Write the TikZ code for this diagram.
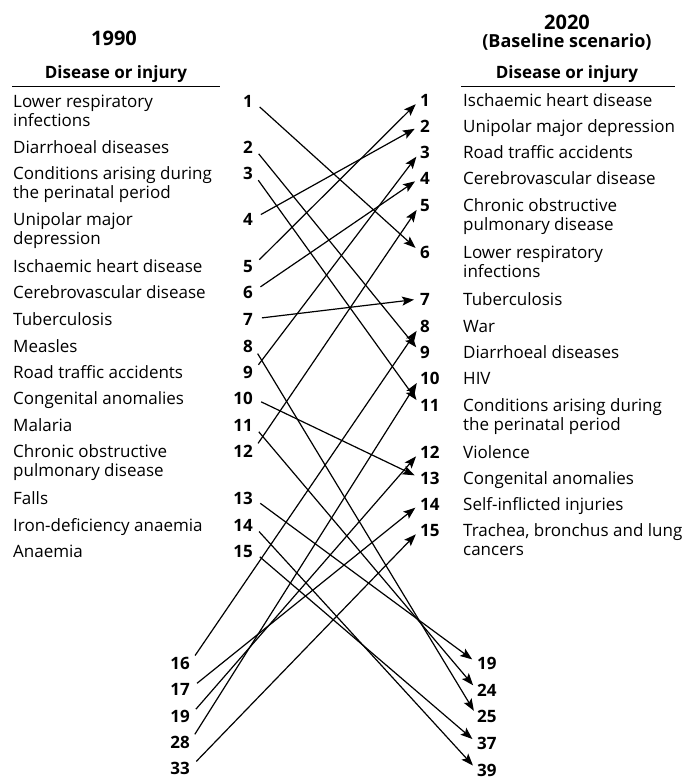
\documentclass[tikz,border=0pt]{standalone}
\usepackage{fontspec}
\setmainfont{Open Sans}
\usetikzlibrary{arrows.meta, positioning}

\begin{document}
\begin{tikzpicture}[
    x=1pt, y=-1pt,
    year/.style={font=\fontsize{20}{22}\selectfont\bfseries, inner sep=0pt},
    head/.style={font=\fontsize{17}{18}\selectfont\bfseries, inner sep=0pt},
    dname/.style={anchor=base west, font=\fontsize{17}{19}\selectfont, align=left, inner sep=0pt},
    dname2/.style={dname, yshift=-19pt},
    lnum/.style={anchor=base east, font=\fontsize{17}{19}\selectfont\bfseries, inner sep=0pt},
    rnum/.style={anchor=base west, font=\fontsize{17}{19}\selectfont\bfseries, inner sep=0pt},
    arrow/.style={-{Stealth[length=12pt, width=9pt, inset=2.5pt]}, line width=1.2pt, shorten <=9pt, shorten >=6pt}
]
\useasboundingbox (0,0) rectangle (686,782);

% Headings
\node[year] (y90) at (114,38) {1990};
\node[head] (h90) at (116,74) {Disease or injury};
\draw[line width=0.8pt] (12,86) -- (220,86);

\node[year] (y20) at (567,22) {2020};
\node[year, font=\fontsize{18}{20}\selectfont\bfseries, below=4pt of y20] (base20) {(Baseline scenario)};
\node[head] (h20) at (567,74) {Disease or injury};
\draw[line width=0.8pt] (461,86) -- (675,86);

% 1990: diseases
\node[dname2] (lri90) at (13,107) {Lower respiratory\\infections};
\node[dname] (diar90) at (13,153) {Diarrhoeal diseases};
\node[dname2] (peri90) at (13,179) {Conditions arising during\\the perinatal period};
\node[dname2] (dep90) at (13,225) {Unipolar major\\depression};
\node[dname] (ihd90) at (13,272) {Ischaemic heart disease};
\node[dname] (cvd90) at (13,298) {Cerebrovascular disease};
\node[dname] (tb90) at (13,325) {Tuberculosis};
\node[dname] (measles90) at (13,352) {Measles};
\node[dname] (rta90) at (13,378) {Road traffic accidents};
\node[dname] (cong90) at (13,404) {Congenital anomalies};
\node[dname] (malaria90) at (13,431) {Malaria};
\node[dname2] (copd90) at (13,457) {Chronic obstructive\\pulmonary disease};
\node[dname] (falls90) at (13,504) {Falls};
\node[dname] (ida90) at (13,531) {Iron-deficiency anaemia};
\node[dname] (anaemia90) at (13,557) {Anaemia};

% 1990: ranks
\node[lnum] (l1) at (253,107) {1};
\node[lnum] (l2) at (253,153) {2};
\node[lnum] (l3) at (253,179) {3};
\node[lnum] (l4) at (253,225) {4};
\node[lnum] (l5) at (253,272) {5};
\node[lnum] (l6) at (253,298) {6};
\node[lnum] (l7) at (253,325) {7};
\node[lnum] (l8) at (253,352) {8};
\node[lnum] (l9) at (253,378) {9};
\node[lnum] (l10) at (253,404) {10};
\node[lnum] (l11) at (253,431) {11};
\node[lnum] (l12) at (253,457) {12};
\node[lnum] (l13) at (253,504) {13};
\node[lnum] (l14) at (253,531) {14};
\node[lnum] (l15) at (253,557) {15};

\node[lnum] (l16) at (190,669) {16};
\node[lnum] (l17) at (190,695) {17};
\node[lnum] (l19) at (190,722) {19};
\node[lnum] (l28) at (190,748) {28};
\node[lnum] (l33) at (190,774) {33};

% 2020: ranks
\node[rnum] (r1) at (420,106) {1};
\node[rnum] (r2) at (420,132) {2};
\node[rnum] (r3) at (420,158) {3};
\node[rnum] (r4) at (420,184) {4};
\node[rnum] (r5) at (420,211) {5};
\node[rnum] (r6) at (420,258) {6};
\node[rnum] (r7) at (420,305) {7};
\node[rnum] (r8) at (420,332) {8};
\node[rnum] (r9) at (420,358) {9};
\node[rnum] (r10) at (420,384) {10};
\node[rnum] (r11) at (420,411) {11};
\node[rnum] (r12) at (420,458) {12};
\node[rnum] (r13) at (420,484) {13};
\node[rnum] (r14) at (420,510) {14};
\node[rnum] (r15) at (420,536) {15};

\node[rnum] (r19) at (477,669) {19};
\node[rnum] (r24) at (477,696) {24};
\node[rnum] (r25) at (477,722) {25};
\node[rnum] (r37) at (477,749) {37};
\node[rnum] (r39) at (477,776) {39};

% 2020: diseases
\node[dname] (ihd20) at (463,106) {Ischaemic heart disease};
\node[dname] (dep20) at (463,132) {Unipolar major depression};
\node[dname] (rta20) at (463,158) {Road traffic accidents};
\node[dname] (cvd20) at (463,184) {Cerebrovascular disease};
\node[dname2] (copd20) at (463,211) {Chronic obstructive\\pulmonary disease};
\node[dname2] (lri20) at (463,258) {Lower respiratory\\infections};
\node[dname] (tb20) at (463,305) {Tuberculosis};
\node[dname] (war20) at (463,332) {War};
\node[dname] (diar20) at (463,358) {Diarrhoeal diseases};
\node[dname] (hiv20) at (463,384) {HIV};
\node[dname2] (peri20) at (463,411) {Conditions arising during\\the perinatal period};
\node[dname] (viol20) at (463,458) {Violence};
\node[dname] (cong20) at (463,484) {Congenital anomalies};
\node[dname] (self20) at (463,510) {Self-inflicted injuries};
\node[dname2] (lung20) at (463,536) {Trachea, bronchus and lung\\cancers};

% Arrows
\draw[arrow] (l1.east) -- (r6.west);
\draw[arrow] (l2.east) -- (r9.west);
\draw[arrow] (l3.east) -- (r11.west);
\draw[arrow] (l4.east) -- (r2.west);
\draw[arrow] (l5.east) -- (r1.west);
\draw[arrow] (l6.east) -- (r4.west);
\draw[arrow] (l7.east) -- (r7.west);
\draw[arrow] (l8.east) -- (r25.west);
\draw[arrow] (l9.east) -- (r3.west);
\draw[arrow] (l10.east) -- (r13.west);
\draw[arrow] (l11.east) -- (r24.west);
\draw[arrow] (l12.east) -- (r5.west);
\draw[arrow] (l13.east) -- (r19.west);
\draw[arrow] (l14.east) -- (r39.west);
\draw[arrow] (l15.east) -- (r37.west);
\draw[arrow] (l16.east) -- (r8.west);
\draw[arrow] (l17.east) -- (r14.west);
\draw[arrow] (l19.east) -- (r12.west);
\draw[arrow] (l28.east) -- (r10.west);
\draw[arrow] (l33.east) -- (r15.west);

\end{tikzpicture}
\end{document}
